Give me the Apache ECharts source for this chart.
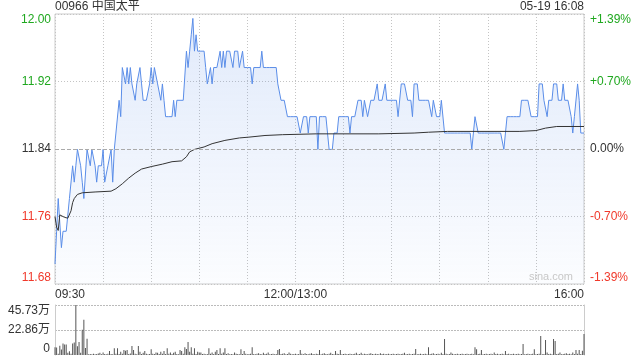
<!DOCTYPE html>
<html><head><meta charset="utf-8">
<script src="https://cdn.jsdelivr.net/npm/echarts@6/dist/echarts.min.js"></script>
<style>html,body{margin:0;padding:0;background:#fff}#c{width:640px;height:360px}</style>
</head><body><div id="c"></div>
<script>
const stockTitle = '00966 中国太平';
const stampText = '05-19 16:08';
const watermark = 'sina.com';
const pctLabels = ['-1.39%', '-0.70%', '0.00%', '+0.70%', '+1.39%'];
const volLabels = ['0', '22.86万', '45.73万'];
const timeLabels = {0: '09:30', 150: '12:00/13:00', 330: '16:00'};
const prevClose = 11.84;

// one price per minute, 09:30 (minute 0) .. 16:00 (minute 330)
const prices = [
11.70,11.74,11.78,11.78,11.72,11.74,11.74,11.74,11.74,11.78,
11.78,11.82,11.80,11.82,11.84,11.84,11.82,11.80,11.78,11.78,
11.84,11.84,11.82,11.84,11.84,11.82,11.80,11.82,11.82,11.82,
11.84,11.80,11.80,11.82,11.82,11.84,11.80,11.84,11.86,11.86,
11.90,11.88,11.94,11.94,11.92,11.94,11.92,11.94,11.92,11.92,
11.90,11.92,11.92,11.94,11.92,11.90,11.90,11.90,11.90,11.92,
11.94,11.92,11.94,11.94,11.92,11.92,11.90,11.92,11.90,11.88,
11.88,11.88,11.88,11.88,11.90,11.88,11.90,11.90,11.90,11.90,
11.90,11.90,11.96,11.94,11.96,11.98,12.00,11.96,11.98,11.96,
11.96,11.96,11.96,11.96,11.94,11.92,11.92,11.94,11.92,11.94,
11.94,11.94,11.94,11.96,11.94,11.96,11.94,11.96,11.96,11.96,
11.96,11.94,11.96,11.96,11.96,11.94,11.94,11.96,11.94,11.94,
11.94,11.94,11.94,11.92,11.94,11.94,11.94,11.94,11.94,11.96,
11.94,11.94,11.94,11.94,11.94,11.94,11.94,11.94,11.94,11.92,
11.92,11.90,11.90,11.90,11.90,11.88,11.88,11.88,11.88,11.88,
11.88,11.88,11.88,11.86,11.86,11.88,11.88,11.88,11.86,11.88,
11.88,11.88,11.88,11.88,11.84,11.88,11.88,11.88,11.88,11.88,
11.88,11.84,11.84,11.84,11.86,11.86,11.86,11.88,11.88,11.88,
11.88,11.88,11.88,11.88,11.86,11.88,11.88,11.88,11.88,11.90,
11.90,11.90,11.88,11.90,11.90,11.88,11.88,11.90,11.90,11.90,
11.90,11.92,11.90,11.90,11.90,11.90,11.92,11.90,11.90,11.90,
11.90,11.90,11.90,11.90,11.88,11.88,11.92,11.92,11.92,11.92,
11.90,11.90,11.90,11.88,11.92,11.92,11.92,11.90,11.90,11.90,
11.90,11.90,11.90,11.90,11.90,11.88,11.90,11.90,11.88,11.88,
11.88,11.90,11.90,11.86,11.86,11.86,11.86,11.86,11.86,11.86,
11.86,11.86,11.86,11.86,11.86,11.86,11.86,11.86,11.86,11.86,
11.84,11.86,11.88,11.88,11.86,11.86,11.86,11.86,11.86,11.86,
11.86,11.86,11.86,11.86,11.86,11.86,11.86,11.86,11.86,11.86,
11.84,11.86,11.88,11.88,11.88,11.88,11.88,11.88,11.88,11.88,
11.88,11.90,11.90,11.90,11.90,11.90,11.90,11.88,11.88,11.88,
11.88,11.88,11.92,11.92,11.92,11.90,11.90,11.88,11.90,11.90,
11.90,11.92,11.92,11.92,11.90,11.90,11.90,11.92,11.90,11.90,
11.90,11.90,11.88,11.86,11.88,11.88,11.92,11.90,11.86,11.86,
11.86
];

// average price line, read at these minutes
const avgMinutes = [0,1,2,3,4,6,8,9,10,11,12,14,17,25,35,38,42,46,50,54,60,67,73,79,82,84,87,93,98,106,115,121,131,142,163,202,224,233,245,290,300,306,313,330];
const avgValues = [11.758,11.745,11.741,11.760,11.762,11.757,11.756,11.758,11.765,11.775,11.780,11.785,11.787,11.788,11.789,11.792,11.798,11.805,11.811,11.816,11.819,11.822,11.825,11.826,11.831,11.837,11.840,11.843,11.847,11.851,11.854,11.855,11.857,11.858,11.859,11.859,11.860,11.861,11.862,11.862,11.863,11.866,11.868,11.868];

// volume per minute, in 万
const volumes = [
7.0,6.8,1.2,8.5,5.0,10.5,9.5,9.5,2.1,3.5,
1.2,10.5,11.5,45.73,8.0,12.0,2.1,23.0,32.3,6.5,
14.8,0.8,1.0,0.6,1.2,0.8,1.0,1.4,2.1,0.8,
2.4,1.0,0.8,1.2,3.7,1.0,0.8,6.1,1.2,6.1,
1.0,3.0,1.2,4.6,4.0,4.6,1.0,1.4,8.2,4.6,
1.2,0.8,8.2,3.0,1.0,2.1,3.7,1.2,0.8,1.0,
5.2,1.2,1.0,2.4,2.1,1.0,3.0,1.2,3.7,1.0,
6.1,1.2,2.4,1.0,2.1,3.0,1.0,0.8,4.6,3.7,
1.2,7.0,5.5,11.9,3.0,7.0,1.2,6.1,1.0,3.0,
2.4,2.4,1.0,1.2,0.8,1.0,6.1,1.2,2.4,1.0,
3.0,4.6,1.0,6.1,1.2,2.4,6.1,1.0,1.5,0.8,
1.0,0.8,2.4,1.2,1.0,0.8,5.2,1.0,3.7,1.2,
0.8,1.0,1.2,7.0,1.0,0.8,1.2,1.5,1.0,0.8,
2.1,1.0,1.2,2.4,0.8,1.0,1.2,0.8,1.0,4.6,
5.5,1.0,1.2,1.5,0.8,1.0,2.4,1.2,0.8,1.0,
1.2,0.8,1.0,4.6,1.2,0.8,1.5,1.0,0.8,1.2,
1.5,1.0,0.8,1.2,1.0,4.6,0.8,1.2,1.5,1.0,
0.8,1.2,2.1,1.0,0.8,3.7,1.2,1.0,4.6,0.8,
1.0,1.2,0.8,1.0,1.2,0.8,1.0,1.2,2.1,0.8,
1.0,2.1,0.8,1.2,1.0,0.8,1.2,1.5,1.0,0.8,
1.2,1.0,0.8,1.5,1.0,1.2,0.8,1.0,1.2,0.8,
1.0,1.2,0.8,1.0,1.2,0.8,1.0,1.2,2.1,0.8,
1.0,1.2,0.8,1.0,1.2,5.5,0.8,1.0,1.2,0.8,
1.0,1.2,0.8,7.0,1.0,1.2,1.5,0.8,1.0,1.2,
0.8,2.1,1.0,14.6,1.2,0.8,1.0,2.4,1.2,0.8,
1.0,1.2,0.8,1.0,1.2,0.8,1.0,1.2,0.8,1.0,
1.2,0.8,7.0,5.2,1.0,1.2,4.6,0.8,1.0,1.2,
0.8,1.0,1.2,0.8,2.4,1.0,1.2,0.8,1.0,1.2,
0.8,3.7,1.0,1.2,0.8,1.0,1.2,0.8,1.0,1.2,
0.8,1.0,10.1,0.8,1.0,1.2,0.8,1.0,1.2,5.2,
0.8,1.0,1.2,17.4,0.8,1.0,13.7,2.4,1.0,1.2,
0.8,14.6,12.8,1.0,1.2,2.4,0.8,1.0,1.2,1.5,
1.0,1.2,0.8,2.4,1.0,4.6,1.2,4.6,1.0,4.0,
19.2
];

const UP = '#1fa81f', DOWN = '#f0392b', FLAT = '#333';
const FONT = '"Liberation Sans", Arial, "Noto Sans CJK SC", sans-serif';

const chart = echarts.init(document.getElementById('c'), null, {renderer: 'canvas'});
chart.setOption({
  animation: false,
  textStyle: {fontFamily: FONT},
  grid: [
    {left: 55, right: 56, top: 14, height: 270, show: true, borderColor: '#ccc', borderWidth: 1},
    {left: 55, right: 56, top: 305, height: 50}
  ],
  graphic: [
    {type: 'text', left: 55, top: 1, style: {text: stockTitle, fill: '#333', font: '12px ' + FONT}},
    {type: 'text', right: 56, top: 1, style: {text: stampText, fill: '#333', font: '12px ' + FONT}},
    {type: 'text', right: 67, top: 271, z: 10, style: {text: watermark, fill: '#c8c8c8', font: '11px ' + FONT}}
  ],
  xAxis: [
    {gridIndex: 0, type: 'value', min: 0, max: 330, interval: 30,
     axisLine: {show: false}, axisTick: {show: false},
     splitLine: {show: true, lineStyle: {color: '#c4c4c4', type: [1, 2]}},
     axisLabel: {formatter: v => timeLabels[v] || '', color: '#333', fontSize: 12, margin: 5,
                 alignMinLabel: 'left', alignMaxLabel: 'right', showMinLabel: true, showMaxLabel: true}},
    {gridIndex: 1, type: 'value', min: 0, max: 330, show: false}
  ],
  yAxis: [
    {gridIndex: 0, type: 'value', position: 'left', min: 11.68, max: 12.00, interval: 0.08,
     axisLine: {show: false}, axisTick: {show: false},
     splitLine: {show: true, lineStyle: {color: '#c4c4c4', type: [1, 2]}},
     axisLabel: {formatter: v => Number(v).toFixed(2), fontSize: 12, margin: 4,
                 color: v => { const n = parseFloat(v); return n > prevClose + 1e-6 ? UP : (n < prevClose - 1e-6 ? DOWN : FLAT); },
                 verticalAlignMinLabel: 'bottom', verticalAlignMaxLabel: 'top'}},
    {gridIndex: 0, type: 'value', position: 'right', min: -2, max: 2, interval: 1,
     axisLine: {show: false}, axisTick: {show: false}, splitLine: {show: false},
     axisLabel: {formatter: v => pctLabels[Math.round(v) + 2], fontSize: 12, margin: 6,
                 color: v => { const n = parseFloat(v); return n > 0 ? UP : (n < 0 ? DOWN : FLAT); },
                 verticalAlignMinLabel: 'bottom', verticalAlignMaxLabel: 'top'}},
    {gridIndex: 0, type: 'value', min: 11.6756, max: 12.0054, show: false},
    {gridIndex: 1, type: 'value', position: 'left', min: 0, max: 45.73, interval: 22.865,
     axisLine: {show: true, lineStyle: {color: '#ccc'}}, axisTick: {show: false},
     splitLine: {show: true, lineStyle: {color: ['rgba(0,0,0,0)', '#bbb', '#bbb'], type: [2, 1]}},
     axisLabel: {formatter: (v, i) => volLabels[i], color: '#333', fontSize: 12, margin: 5,
                 verticalAlignMinLabel: 'bottom', verticalAlignMaxLabel: 'top'}},
    {gridIndex: 1, type: 'value', position: 'right', min: 0, max: 1,
     axisLine: {show: true, lineStyle: {color: '#ccc'}}, axisTick: {show: false},
     axisLabel: {show: false}, splitLine: {show: false}}
  ],
  series: [
    {type: 'line', xAxisIndex: 0, yAxisIndex: 2, symbol: 'none', z: 3,
     data: prices.map((p, i) => [i, p]),
     lineStyle: {color: '#5a8de8', width: 1},
     areaStyle: {origin: 'start', color: new echarts.graphic.LinearGradient(0, 0, 0, 1, [
        {offset: 0, color: 'rgba(90,141,232,0.26)'}, {offset: 1, color: 'rgba(90,141,232,0.03)'}])},
     markLine: {silent: true, symbol: 'none', label: {show: false},
                lineStyle: {color: '#aaa', type: [4, 2], width: 1},
                data: [{yAxis: prevClose}]}},
    {type: 'line', xAxisIndex: 0, yAxisIndex: 2, symbol: 'none', z: 4,
     data: avgMinutes.map((m, i) => [m, avgValues[i]]),
     lineStyle: {color: '#333', width: 1}},
    {type: 'bar', xAxisIndex: 1, yAxisIndex: 3, barWidth: 1,
     data: volumes.map((v, i) => [i, v]),
     itemStyle: {color: '#555'}}
  ]
});
</script>
</body></html>
